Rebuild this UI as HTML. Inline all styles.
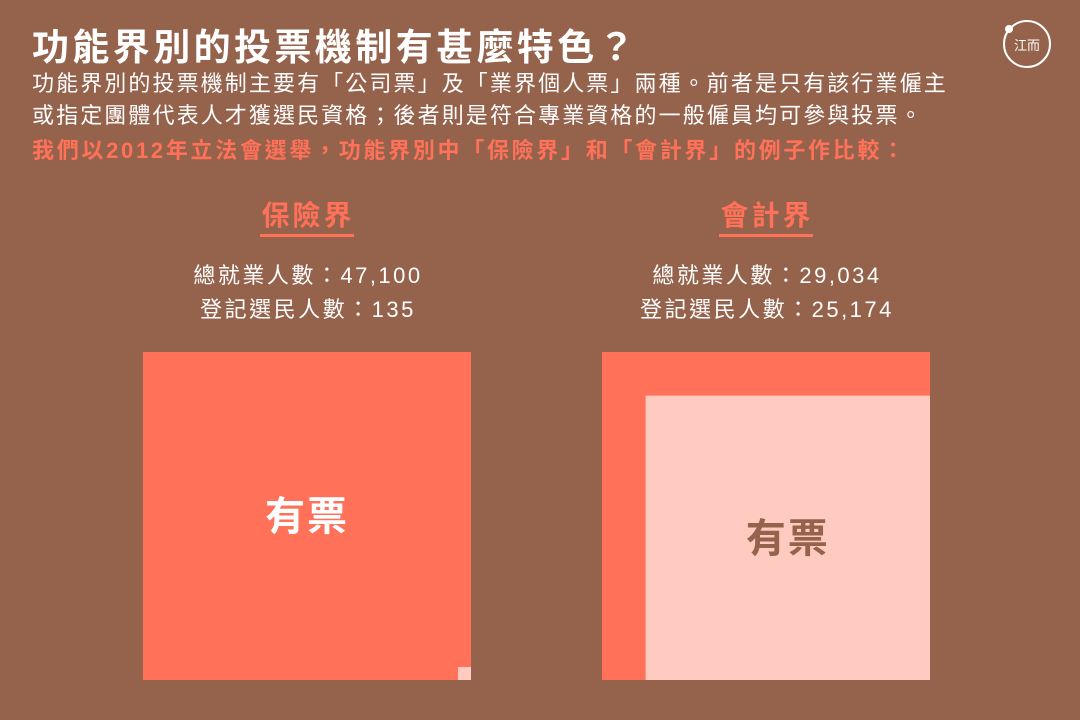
<!DOCTYPE html>
<html><head><meta charset="utf-8"><style>
body{margin:0;width:1080px;height:720px;background:#95624c;overflow:hidden;font-family:"Liberation Sans","Noto Sans CJK TC",sans-serif;color:#fff;position:relative}
.a{position:absolute;white-space:nowrap}
.h{font-weight:bold;font-size:28px;letter-spacing:3px;color:#ff7159;width:200px;text-align:center}
.ul{position:absolute;height:3px;background:#ff7159;width:94px}
.st{font-size:22px;letter-spacing:2.5px;line-height:34px;text-align:center;width:400px}
</style></head><body>
<div class="a" style="left:32px;top:17px;font-size:37px;letter-spacing:3.4px;font-weight:bold">功能界別的投票機制有甚麼特色？</div>
<div class="a" style="left:32px;top:68px;font-size:22px;letter-spacing:2.1px;line-height:32px">功能界別的投票機制主要有「公司票」及「業界個人票」兩種。前者是只有該行業僱主<br>或指定團體代表人才獲選民資格；後者則是符合專業資格的一般僱員均可參與投票。</div>
<div class="a" style="left:32px;top:133px;font-size:22px;letter-spacing:2.7px;font-weight:bold;color:#ff7159">我們以2012年立法會選舉，功能界別中「保險界」和「會計界」的例子作比較：</div>
<svg class="a" style="left:1000px;top:18px" width="54" height="54"><circle cx="27" cy="26" r="23" fill="none" stroke="#fff" stroke-width="2"/><circle cx="9" cy="11" r="4" fill="#fff"/><text x="27" y="32" font-size="13" fill="#fff" text-anchor="middle" font-family="Noto Sans CJK TC">江而</text></svg>

<div class="a h" style="left:208px;top:194px">保險界</div>
<div class="ul" style="left:260px;top:234px"></div>
<div class="a h" style="left:667px;top:194px">會計界</div>
<div class="ul" style="left:719px;top:234px"></div>
<div class="a st" style="left:108px;top:259px">總就業人數：47,100<br>登記選民人數：135</div>
<div class="a st" style="left:567px;top:259px">總就業人數：29,034<br>登記選民人數：25,174</div>
<svg class="a" id="chart" style="left:0;top:0" width="1080" height="720"></svg>
<script>
const sectors=["保險界","會計界"];
const employed=[47100,29034];
const voters=[135,25174];
const labels=["有票","有票"];
const svg=document.getElementById('chart');const NS='http://www.w3.org/2000/svg';
const lefts=[143,602],top0=352,S=328;
for(let i=0;i<sectors.length;i++){
 const r=document.createElementNS(NS,'rect');
 r.setAttribute('x',lefts[i]);r.setAttribute('y',top0);r.setAttribute('width',S);r.setAttribute('height',S);r.setAttribute('fill','#ff7159');
 
 
 svg.appendChild(r);
 const s=Math.max(13,S*voters[i]/employed[i]);
 const v=document.createElementNS(NS,'rect');
 v.setAttribute('x',lefts[i]+S-s);v.setAttribute('y',top0+S-s);v.setAttribute('width',s);v.setAttribute('height',s);v.setAttribute('fill','#ffcac0');
 
 
 svg.appendChild(v);
 const big=s>100;
 const t=document.createElementNS(NS,'text');
 t.setAttribute('x',big?lefts[i]+S-s/2:lefts[i]+S/2);t.setAttribute('y',big?top0+S-s/2+14:top0+S/2+14);
 t.setAttribute('text-anchor','middle');t.setAttribute('font-size','40');t.setAttribute('font-weight','bold');t.setAttribute('letter-spacing','2');
 t.setAttribute('fill',big?'#95624c':'#fff');t.setAttribute('font-family','Noto Sans CJK TC, sans-serif');
 t.textContent=labels[i];
 
 
 svg.appendChild(t);
}
</script>
</body></html>
